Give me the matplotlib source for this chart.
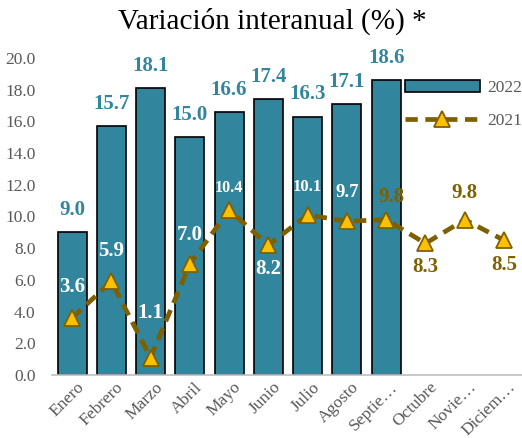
import matplotlib
matplotlib.use("Agg")
import matplotlib.pyplot as plt
import matplotlib.transforms as mtransforms
import numpy as np

months = ["Enero", "Febrero", "Marzo", "Abril", "Mayo", "Junio", "Julio",
          "Agosto", "Septie…", "Octubre", "Novie…", "Diciem…"]
v2022 = [9.0, 15.7, 18.1, 15.0, 16.6, 17.4, 16.3, 17.1, 18.6]
v2021 = [3.6, 5.9, 1.1, 7.0, 10.4, 8.2, 10.1, 9.7, 9.8, 8.3, 9.8, 8.5]
yticks = [0, 2, 4, 6, 8, 10, 12, 14, 16, 18, 20]

BAR = "#31859C"
GOLD = "#7F6000"
MARK = "#FFC000"
GREY = "#595959"

plt.rcParams["font.family"] = ["Liberation Serif", "DejaVu Serif"]

W, H = 522, 438
fig = plt.figure(figsize=(W / 100, H / 100), dpi=100)
left = 52.4 / W
bottom = 1 - 375 / H
top = 1 - 58 / H
ax = fig.add_axes([left, bottom, 469.3 / W, top - bottom])

x = np.arange(len(months))
xb = np.arange(len(v2022))
bars = ax.bar(xb, v2022, width=0.74, color=BAR, edgecolor="black", linewidth=1.2,
              label="2022", zorder=2)
line, = ax.plot(x, v2021, linestyle=(0, (2.6, 1.6)), color=GOLD, linewidth=3.4,
                marker="^", markersize=11, markerfacecolor=MARK, markeredgecolor=GOLD,
                markeredgewidth=1.3, label="2021", zorder=3)

ax.set_xlim(-0.5, 11.45)
ax.set_ylim(0, 20)
ax.set_yticks(yticks)
ax.set_yticklabels([f"{t:.1f}" for t in yticks], fontsize=12.5, color=GREY)
ax.set_xticks(x)
ax.set_xticklabels(months, rotation=45, ha="right", rotation_mode="anchor",
                   fontsize=12.5, color=GREY)
ax.tick_params(axis="y", length=0, pad=12)
ax.tick_params(axis="x", length=0, pad=3)
shift = mtransforms.ScaledTranslation(4 / 100, 0, fig.dpi_scale_trans)
for lab in ax.get_xticklabels():
    lab.set_transform(lab.get_transform() + shift)
for s in ["top", "right", "left"]:
    ax.spines[s].set_visible(False)
ax.spines["bottom"].set_color("#BFBFBF")
ax.spines["bottom"].set_linewidth(1.2)

for xi, v in zip(xb, v2022):
    ax.annotate(f"{v:.1f}", (xi, v), xytext=(0, 16), textcoords="offset points",
                ha="center", va="center", fontsize=15, fontweight="bold", color=BAR,
                annotation_clip=False)

offs = [22, 22, 0, 21, 16, -17, 20, 21, 16, -17, 19, -18]
xoffs = [0, 0, 0, 0, 0, 0, 0, 0, 4, 0, 0, 0]
cols = ["white"] * 8 + [GOLD] * 4
sizes = [15, 15, 15, 15, 11.5, 15, 12, 13.5, 15, 15, 15, 15]
for i, v in enumerate(v2021):
    if i == 2:
        ax.annotate(f"{v:.1f}", (i, v), xytext=(0, 32), textcoords="offset points",
                    ha="center", va="center", fontsize=sizes[i], fontweight="bold",
                    color=cols[i], zorder=5)
        ax.annotate("", (i, v), xytext=(i, v + 1.9),
                    arrowprops=dict(arrowstyle="-", color="#A6A6A6", lw=1.2,
                                    shrinkA=0, shrinkB=4), zorder=1)
        continue
    ax.annotate(f"{v:.1f}", (i, v), xytext=(xoffs[i], offs[i]), textcoords="offset points",
                ha="center", va="center", fontsize=sizes[i], fontweight="bold",
                color=cols[i], zorder=5)

leg = ax.legend([bars, line], ["2022", "2021"], loc="upper left",
                bbox_to_anchor=(405 / W, 1 - 80 / H),
                bbox_transform=fig.transFigure, frameon=False, borderpad=0,
                borderaxespad=0, handlelength=4.3, handletextpad=0.45,
                labelspacing=0.95, prop={"size": 12.5}, numpoints=1)
for t in leg.get_texts():
    t.set_color(GREY)

fig.text(272 / W, 1 - 21 / H, "Variación interanual (%) *", ha="center", va="center",
         fontsize=21, color="black")

fig.savefig("out.png", dpi=100)
